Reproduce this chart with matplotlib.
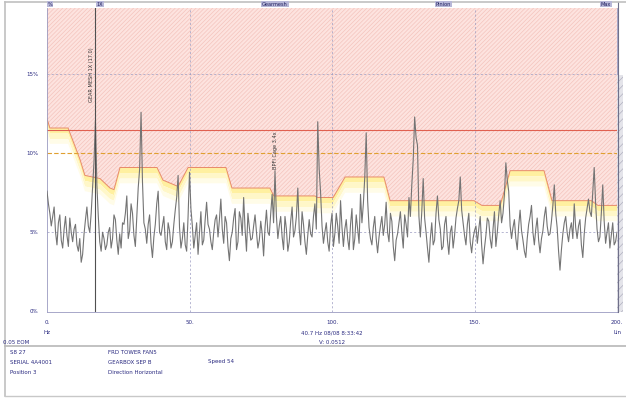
import matplotlib
matplotlib.use("Agg")
import matplotlib.pyplot as plt
from matplotlib.lines import Line2D
from matplotlib.patches import Rectangle
import numpy as np

# spectrum amplitude at whole Hz, 0..200
amp_whole = [
    7.6, 6.2, 6.0, 5.0, 5.6, 4.5, 5.2, 4.8, 5.9, 4.4,
    5.5, 3.8, 3.1, 4.9, 6.6, 5.0, 7.9, 12.1, 6.0, 3.8,
    4.6, 4.2, 5.3, 4.6, 5.8, 3.6, 4.0, 5.5, 7.3, 5.1,
    6.2, 4.1, 7.8, 12.6, 5.6, 4.3, 6.1, 3.4, 5.5, 7.6,
    4.8, 6.0, 3.9, 5.1, 4.4, 6.4, 8.6, 4.0, 5.6, 3.8,
    8.8, 5.4, 4.8, 3.6, 6.3, 4.5, 6.9, 5.2, 3.9, 5.8,
    4.7, 7.1, 4.3, 5.6, 3.2, 5.0, 6.5, 4.4, 5.9, 7.2,
    3.8, 5.3, 4.6, 6.1, 4.0, 5.7, 3.5, 6.4, 4.8, 7.4,
    8.9, 4.6, 6.0, 3.9, 5.2, 4.4, 6.6, 5.1, 7.8, 4.2,
    5.5, 3.6, 5.8, 4.7, 6.8, 12.0, 7.5, 4.3, 5.6, 3.8,
    6.2, 4.9, 5.4, 7.0, 4.1, 5.8, 3.9, 6.5, 4.6, 5.2,
    7.4, 6.8, 11.3, 5.3, 4.2, 6.0, 3.7, 5.4, 4.8, 6.9,
    4.4, 5.7, 3.2, 4.9, 6.3, 4.0, 5.5, 7.2, 8.0, 12.3,
    10.5, 4.7, 8.4, 5.0, 3.1, 5.6, 4.5, 7.3, 5.2, 4.1,
    6.0, 3.6, 5.4, 4.8, 6.5, 8.5, 5.6, 4.2, 6.2, 3.7,
    5.1, 4.3, 6.0, 3.0, 4.8, 5.7, 4.0, 6.3, 5.0, 7.0,
    6.2, 9.4, 7.6, 4.6, 5.8, 3.9, 6.4, 4.5, 3.4, 5.5,
    6.7, 4.2, 5.9, 3.7, 5.1, 6.6, 4.8, 5.7, 8.0, 5.3,
    2.6, 4.9, 6.0, 4.4, 5.6, 6.8, 4.6, 5.8, 3.4, 5.9,
    7.1, 6.0, 9.1, 5.2, 4.7, 8.0, 4.3, 5.6, 4.8, 4.2,
    5.0,
]
# amplitude at the half-Hz bins in between
amp_half = [
    6.8, 5.4, 6.6, 4.2, 6.1, 4.0, 6.0, 4.1, 5.0, 5.2,
    4.2, 4.6, 3.6, 5.8, 5.4, 6.2, 9.5, 8.0, 4.4, 5.0,
    3.9, 5.0, 4.0, 6.1, 4.5, 4.9, 5.6, 6.2, 4.6, 6.8,
    4.8, 6.0, 9.0, 8.2, 5.2, 5.5, 4.3, 4.7, 6.8, 5.0,
    5.4, 4.4, 5.6, 4.0, 5.5, 7.2, 5.3, 4.6, 4.2, 6.0,
    6.5, 4.0, 5.6, 4.9, 4.2, 5.8, 5.5, 4.4, 5.0, 6.1,
    5.8, 5.2, 6.0, 4.1, 4.6, 5.9, 3.9, 6.3, 4.8, 5.2,
    6.2, 4.5, 5.4, 5.0, 4.5, 4.9, 5.3, 5.0, 6.2, 5.6,
    6.0, 5.4, 4.7, 6.0, 3.8, 5.7, 4.7, 6.0, 5.2, 6.3,
    4.4, 4.8, 4.9, 6.0, 5.2, 9.0, 5.4, 5.0, 4.4, 5.4,
    4.1, 6.2, 4.3, 5.3, 5.2, 4.6, 5.5, 3.9, 6.1, 4.3,
    5.6, 8.5, 7.0, 4.6, 5.3, 4.6, 4.7, 6.0, 5.5, 5.0,
    6.2, 4.1, 4.5, 5.6, 5.0, 6.1, 4.7, 6.0, 9.6, 11.0,
    6.0, 6.3, 5.9, 4.0, 4.6, 4.2, 6.2, 5.8, 3.9, 5.5,
    4.5, 5.0, 4.0, 5.9, 7.0, 6.4, 4.8, 5.5, 4.4, 4.6,
    5.4, 5.2, 4.2, 4.0, 5.9, 4.6, 5.2, 4.1, 6.1, 5.6,
    7.4, 8.3, 5.4, 5.3, 4.6, 5.4, 5.1, 3.8, 4.6, 6.0,
    5.0, 5.2, 4.5, 4.6, 6.0, 5.4, 4.9, 6.7, 6.2, 3.8,
    3.9, 5.6, 5.0, 5.2, 4.6, 5.3, 5.4, 4.2, 4.9, 6.5,
    6.3, 7.6, 6.8, 4.4, 6.2, 5.7, 5.0, 4.0, 5.6, 4.4,
]

# alarm envelope breakpoints (Hz, level)
env_f = [0, 1, 7.4, 11.6, 13.3, 18.6, 22.1, 23.5, 25.6, 38.6, 40.7, 46, 49.5,
         62.8, 64.9, 78.2, 79.6, 94, 95, 100.4, 104.6, 118.2, 120.4, 149.8,
         152.6, 159, 162.5, 174.4, 177.2, 191, 193.3, 200]
env_v = [12.2, 11.6, 11.6, 9.6, 8.6, 8.4, 7.8, 7.7, 9.1, 9.1, 8.3, 7.9, 9.1,
         9.1, 7.8, 7.8, 7.3, 7.3, 7.2, 7.2, 8.5, 8.5, 7.0, 7.0,
         6.7, 6.7, 8.9, 8.9, 7.0, 7.0, 6.7, 6.7]

alert_level = 11.5
warn_level = 10.0
y_ticks = [0, 5, 10, 15]
y_labels = ["0%", "5%", "10%", "15%"]
x_ticks = [0, 50, 100, 150, 200]
x_labels = ["0.", "50.", "100.", "150.", "200."]
cursor_f = 16.8
mark_f = 80

top_marks = [(1, "%"), (18.5, "1X"), (80, "Gearmesh"), (139, "Pinion"), (196, "Max")]
info_left = ["S8 27", "SERIAL 4A4001", "Position 3"]
info_mid = ["FRD TOWER FAN5", "GEARBOX SEP B", "Direction Horizontal"]

# interleave whole and half-Hz bins
freq, amp = [], []
for i in range(200):
    freq += [i, i + 0.5]
    amp += [amp_whole[i], amp_half[i]]
freq.append(200)
amp.append(amp_whole[200])

W, H = 626, 398
fig = plt.figure(figsize=(W / 100, H / 100), dpi=100)
fig.patch.set_facecolor("white")


def fx(px):
    return px / W


def fy(py):
    return 1 - py / H


ax = fig.add_axes([fx(47), fy(312), fx(617) - fx(47), fy(8) - fy(312)])
ax.set_xlim(0, 200)
ax.set_ylim(-0.05, 19.2)

txt = "#2a2a80"
plt.rcParams["hatch.linewidth"] = 0.5

# alarm zone above envelope
ef = np.linspace(0, 200, 2001)
ev = np.interp(ef, env_f, env_v)
ax.fill_between(ef, ev, 19.2, facecolor="#fde3df", edgecolor="#f4c4bd",
                hatch="////////", linewidth=0, zorder=1)
# yellow warning band just under envelope, fading out
ax.fill_between(ef, ev - 0.35, ev, facecolor="#fff0a0", linewidth=0, zorder=1)
ax.fill_between(ef, ev - 0.7, ev - 0.35, facecolor="#fff7c8", linewidth=0, zorder=1)
ax.fill_between(ef, ev - 1.0, ev - 0.7, facecolor="#fffce8", linewidth=0, zorder=1)
ax.plot(env_f, env_v, color="#e88a6a", lw=0.7, zorder=2)

ax.axhline(alert_level, color="#e06050", lw=0.8, zorder=2)
ax.axhline(warn_level, color="#e0a030", lw=0.8, ls=(0, (4, 2)), zorder=2)

for t in [5, 15]:
    ax.axhline(t, color="#9a9ac0", lw=0.5, ls=(0, (3, 3)), zorder=2)
for t in [50, 100, 150]:
    ax.axvline(t, color="#9a9ac0", lw=0.5, ls=(0, (3, 3)), zorder=2)

ax.plot(freq, amp, color="#747474", lw=0.8, zorder=3)

# cursor line with annotation
ax.axvline(cursor_f, color="#505050", lw=0.8, zorder=4)
ax.text(cursor_f - 0.4, 15.0, "GEAR MESH 1X (17.0)", rotation=90, fontsize=3.6,
        color="#333333", ha="right", va="center", zorder=5)
ax.text(mark_f, 10.2, "BPFI Cage 3.4x", rotation=90, fontsize=3.6,
        color="#333333", ha="center", va="center", zorder=5)

ax.set_yticks(y_ticks)
ax.set_yticklabels(y_labels, fontsize=4, color=txt)
ax.set_xticks(x_ticks)
ax.set_xticklabels(x_labels, fontsize=4, color=txt)
ax.tick_params(length=0, pad=6)
for s in ax.spines.values():
    s.set_color("#9a9ac0")
    s.set_linewidth(0.6)
ax.spines["top"].set_visible(False)

# gray strip right of plot
fig.add_artist(Rectangle((fx(617), fy(312)), fx(623) - fx(617), fy(75) - fy(312),
                         facecolor="#e4e4ea", edgecolor="#b0b0c0", hatch="////",
                         linewidth=0))
fig.add_artist(Line2D([fx(618), fx(618)], [fy(2), fy(312)], color="#70708a", lw=0.8))

# top marker boxes
for f, s in top_marks:
    px = 47 + f * 2.85
    fig.text(fx(px), fy(4), s, fontsize=3.6, color="#202060", ha="center", va="center",
             bbox=dict(facecolor="#b8b8d8", edgecolor="none", pad=0.6))

fig.text(fx(47), fy(333), "Hz", fontsize=4, color=txt, ha="center", va="center")
fig.text(fx(617), fy(333), "Lin", fontsize=4, color=txt, ha="center", va="center")
fig.text(fx(332), fy(333), "40.7 Hz 08/08 8:33:42", fontsize=4, color=txt,
         ha="center", va="center")
fig.text(fx(332), fy(342), "V: 0.0512", fontsize=4, color=txt, ha="center", va="center")

# frame and info panel
fig.add_artist(Line2D([fx(5), fx(626)], [fy(2), fy(2)], color="#c0c0c0", lw=1.2))
fig.add_artist(Line2D([fx(5), fx(5)], [fy(2), fy(396)], color="#c0c0c0", lw=1.2))
fig.add_artist(Line2D([fx(5), fx(626)], [fy(346), fy(346)], color="#b8b8b8", lw=1.2))
fig.add_artist(Line2D([fx(5), fx(626)], [fy(396), fy(396)], color="#c8c8c8", lw=1.0))
fig.text(fx(3), fy(342), "0.05 EOM", fontsize=4, color=txt, va="center")
for i, s in enumerate(info_left):
    fig.text(fx(10), fy(352 + i * 10), s, fontsize=4, color=txt, va="center")
for i, s in enumerate(info_mid):
    fig.text(fx(108), fy(352 + i * 10), s, fontsize=4, color=txt, va="center")
fig.text(fx(208), fy(362), "Speed 54", fontsize=4, color=txt, va="center")

fig.savefig("out.png", dpi=100)
